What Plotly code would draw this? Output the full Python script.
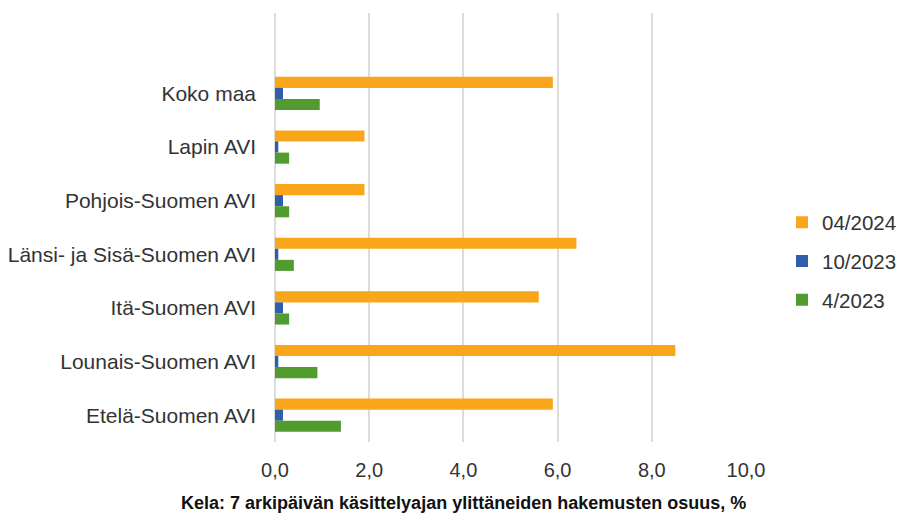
import plotly.graph_objects as go

categories = ["Koko maa", "Lapin AVI", "Pohjois-Suomen AVI", "Länsi- ja Sisä-Suomen AVI",
              "Itä-Suomen AVI", "Lounais-Suomen AVI", "Etelä-Suomen AVI"]
s_2024_04 = [5.9, 1.9, 1.9, 6.4, 5.6, 8.5, 5.9]
s_2023_10 = [0.17, 0.07, 0.17, 0.07, 0.17, 0.07, 0.17]
s_2023_04 = [0.95, 0.3, 0.3, 0.4, 0.3, 0.9, 1.4]
x_ticks = [0, 2, 4, 6, 8, 10]
x_tick_labels = ["0,0", "2,0", "4,0", "6,0", "8,0", "10,0"]
x_title = "Kela: 7 arkipäivän käsittelyajan ylittäneiden hakemusten osuus, %"

fig = go.Figure()
series = [("04/2024", s_2024_04, "#F9A61B"),
          ("10/2023", s_2023_10, "#2F5FAC"),
          ("4/2023", s_2023_04, "#529B2F")]
for name, vals, col in series:
    fig.add_trace(go.Bar(y=categories, x=vals, name=name, orientation="h",
                         marker=dict(color=col, line=dict(width=0)),
                         legendgroup=name))

fig.update_layout(
    width=899, height=513,
    margin=dict(l=275, r=153, t=13, b=71, autoexpand=False),
    paper_bgcolor="white", plot_bgcolor="white",
    barmode="group", bargap=0.38, bargroupgap=0,
    font=dict(family="Liberation Sans, Arial, sans-serif", color="#333333", size=20),
    showlegend=True,
    legend=dict(x=(782 - 275) / 471, y=(442 - 261) / 429, xanchor="left", yanchor="middle",
                traceorder="grouped", tracegroupgap=9,
                font=dict(size=20.5, color="#333333"), itemwidth=30),
)
fig.update_xaxes(range=[0, 10], tickvals=x_ticks, ticktext=x_tick_labels,
                 showgrid=True, gridcolor="#DCDCDC", gridwidth=2,
                 zeroline=True, zerolinecolor="#DCDCDC", zerolinewidth=2,
                 showline=False, ticks="", ticklabelstandoff=14, automargin=False,
                 tickfont=dict(size=20, color="#333333"), fixedrange=True)
fig.update_yaxes(type="category", categoryorder="array", categoryarray=categories,
                 range=[6.5, -1.5], showgrid=False, zeroline=False, showline=False,
                 ticks="", ticklabelstandoff=18, automargin=False,
                 tickfont=dict(size=21, color="#333333"), fixedrange=True)
fig.add_annotation(text="<b>" + x_title + "</b>", xref="paper", yref="paper",
                   x=(463 - 275) / 471, y=-(503 - 442) / 429, xanchor="center", yanchor="middle",
                   showarrow=False,
                   font=dict(family="Liberation Sans Narrow, Arial Narrow, Liberation Sans, sans-serif",
                             size=18, color="#111111"))

fig.write_html("out.html", config={"displayModeBar": False},
               post_script="document.body.style.margin='0';document.body.style.overflow='hidden';")
